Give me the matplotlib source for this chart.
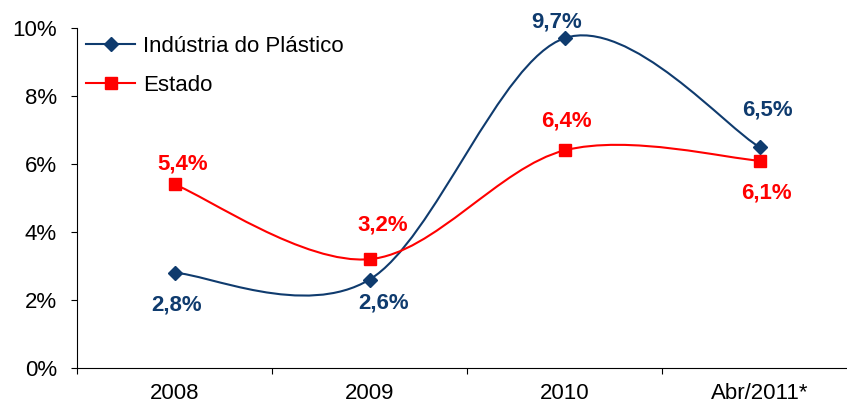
import matplotlib.pyplot as plt
from matplotlib.path import Path
from matplotlib.patches import PathPatch

plt.rcParams['font.family'] = ['Liberation Sans', 'DejaVu Sans']

categorias = ['2008', '2009', '2010', 'Abr/2011*']
industria = [2.8, 2.6, 9.7, 6.5]
estado = [5.4, 3.2, 6.4, 6.1]
rot_industria = ['2,8%', '2,6%', '9,7%', '6,5%']
rot_estado = ['5,4%', '3,2%', '6,4%', '6,1%']

azul = '#0F3B6E'
vermelho = '#FF0000'


def curva_suave(xs, ys):
    # curva bezier tipo "linha suavizada" do Excel (catmull-rom)
    pts = list(zip(xs, ys))
    verts = [pts[0]]
    codes = [Path.MOVETO]
    n = len(pts)
    for i in range(n - 1):
        p0 = pts[i - 1] if i > 0 else pts[i]
        p1 = pts[i]
        p2 = pts[i + 1]
        p3 = pts[i + 2] if i + 2 < n else pts[i + 1]
        c1 = (p1[0] + (p2[0] - p0[0]) / 6, p1[1] + (p2[1] - p0[1]) / 6)
        c2 = (p2[0] - (p3[0] - p1[0]) / 6, p2[1] - (p3[1] - p1[1]) / 6)
        verts += [c1, c2, p2]
        codes += [Path.CURVE4] * 3
    return Path(verts, codes)


fig = plt.figure(figsize=(8.47, 4.12), dpi=100)
ax = fig.add_axes([77 / 847, 44 / 412, 780 / 847, 340 / 412])

x = list(range(len(categorias)))

for vals, cor in [(industria, azul), (estado, vermelho)]:
    ax.add_patch(PathPatch(curva_suave(x, vals), facecolor='none', edgecolor=cor, lw=1.5, zorder=2))

ax.plot(x, industria, ls='none', marker='D', ms=7.5, color=azul, zorder=3)
ax.plot(x, estado, ls='none', marker='s', ms=8.5, color=vermelho, zorder=3)
# legenda
ax.plot([], [], marker='D', ms=7.5, color=azul, lw=1.5, label='Indústria do Plástico')
ax.plot([], [], marker='s', ms=8.5, color=vermelho, lw=1.5, label='Estado')

# deslocamentos dos rótulos (pontos)
pos_ind = [(1.5, -23), (10, -16.5), (-5.5, 11.5), (5.5, 26.5)]
pos_est = [(6, 14.5), (9.5, 24.5), (1.5, 21.5), (5, -23.5)]
for i in x:
    ax.annotate(rot_industria[i], (x[i], industria[i]), xytext=pos_ind[i], textcoords='offset points',
                ha='center', va='center', color=azul, fontsize=16, fontweight='bold')
    ax.annotate(rot_estado[i], (x[i], estado[i]), xytext=pos_est[i], textcoords='offset points',
                ha='center', va='center', color=vermelho, fontsize=16, fontweight='bold')

ax.set_xlim(-0.5, 3.5)
ax.set_ylim(0, 10)
ax.set_yticks([0, 2, 4, 6, 8, 10])
ax.set_yticklabels(['0%', '2%', '4%', '6%', '8%', '10%'], fontsize=16)
ax.set_xticks([-0.5, 0.5, 1.5, 2.5])
ax.set_xticklabels([])
ax.set_xticks(x, minor=True)
ax.set_xticklabels(categorias, minor=True, fontsize=16)
ax.tick_params(axis='x', which='major', length=4.5, direction='out')
ax.tick_params(axis='x', which='minor', length=0, pad=11)
ax.tick_params(axis='y', length=4.5, direction='out', pad=10)
ax.spines['top'].set_visible(False)
ax.spines['right'].set_visible(False)

ax.legend(loc='upper left', bbox_to_anchor=(0.012, 0.977), frameon=False, fontsize=16,
          handlelength=2.2, handletextpad=0.35, borderaxespad=0, borderpad=0, labelspacing=0.8)

fig.savefig('out.png', dpi=100)
